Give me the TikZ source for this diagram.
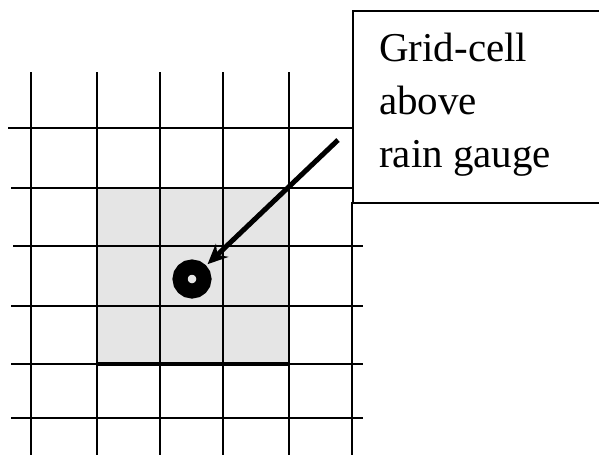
\documentclass[tikz,border=0pt]{standalone}
\usepackage{fontspec}
\setmainfont{Liberation Serif}
\usetikzlibrary{arrows.meta,positioning}
\definecolor{cellgray}{RGB}{229,229,229}
\tikzset{
  gline/.style={black, line width=2pt},
  bline/.style={black, line width=4pt},
  notebox/.style={draw, line width=1.6pt, anchor=north west, minimum width=280pt, minimum height=192pt, inner sep=0pt},
  notetxt/.style={font=\fontsize{41}{53}\selectfont, align=left, anchor=north west, inner sep=0pt},
  gauge/.style={circle, draw, line width=15pt, minimum size=24pt, inner sep=0pt},
  parr/.style={-{Stealth[length=20pt, width=18pt]}, line width=5pt, shorten >=2pt},
}

\begin{document}
\begin{tikzpicture}[x=1pt,y=-1pt]
  \useasboundingbox (0,0) rectangle (599,455);
  % shaded cells round the gauge
  \fill[cellgray] (97,188) rectangle (289,364);
  % grid
  \foreach \gx in {31,97,160,223,289}
    \draw[gline] (\gx,72) -- (\gx,455);
  \draw[gline] (352,202) -- (352,455);
  \foreach \gy/\gs in {128/8,188/11}
    \draw[gline] (\gs,\gy) -- (352,\gy);
  \foreach \gy/\gs in {246/13,306/11,364/11,418/11}
    \draw[gline] (\gs,\gy) -- (363,\gy);
  \draw[bline] (97,364) -- (289,364);
  % label box
  \node[notebox, fill=white] (cellnote) at (352,10) {};
  \node[notetxt] (notetext) at (379,33) {Grid-cell\\above\\rain gauge};
  % gauge and pointer
  \node[gauge] (raingauge) at (192,279) {};
  \coordinate (tail) at (338,140);
  \draw[parr] (tail) -- (raingauge);
\end{tikzpicture}
\end{document}
